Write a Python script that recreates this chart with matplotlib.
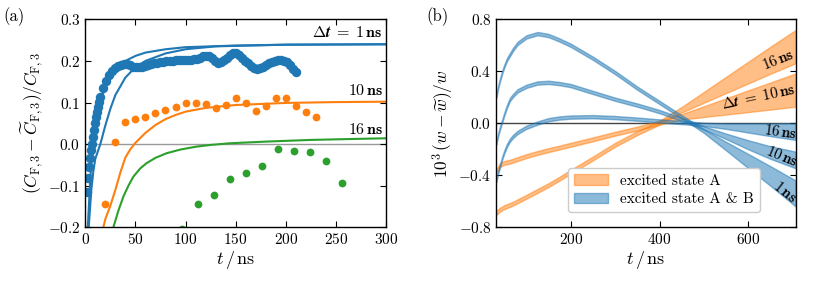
import matplotlib
matplotlib.use("Agg")
import matplotlib.pyplot as plt
import numpy as np

plt.rcParams['font.family'] = 'serif'
plt.rcParams['font.serif'] = ['cmr10', 'DejaVu Serif']
plt.rcParams['mathtext.fontset'] = 'cm'
plt.rcParams['axes.formatter.use_mathtext'] = True
plt.rcParams['font.size'] = 10.5

C0, C1, C2 = '#1f77b4', '#ff7f0e', '#2ca02c'

# ---- panel (a): simulation points ----
t_1ns = [2, 3, 4, 5, 6, 7, 8, 9, 10, 11, 12, 13, 14, 15,
         18, 21, 24, 27, 30, 33, 36, 39, 42, 45, 48, 51, 54, 57, 60, 63,
         66, 69, 72, 75, 78, 81, 84, 87, 90, 93, 96, 99, 102, 105, 108, 111,
         114, 117, 120, 123, 126, 129, 132, 135, 138, 141, 144, 147, 150, 153,
         156, 159, 162, 165, 168, 171, 174, 177, 180, 183, 186, 189, 192, 195,
         198, 201, 204, 207, 210]
y_1ns = [-0.115, -0.082, -0.055, -0.033, -0.015, 0.0, 0.018, 0.035, 0.05, 0.064,
         0.077, 0.09, 0.102, 0.113,
         0.135, 0.152, 0.165, 0.175, 0.182, 0.187, 0.19, 0.193, 0.193, 0.19,
         0.186, 0.185, 0.185, 0.186, 0.188, 0.19, 0.192, 0.194, 0.196, 0.197,
         0.198, 0.199, 0.199, 0.2, 0.201, 0.201, 0.202, 0.202, 0.203, 0.203,
         0.204, 0.205, 0.208, 0.211, 0.213, 0.212, 0.207, 0.2, 0.196, 0.197,
         0.202, 0.208, 0.214, 0.218, 0.218, 0.214, 0.207, 0.2, 0.194, 0.188,
         0.183, 0.181, 0.182, 0.186, 0.191, 0.195, 0.198, 0.2, 0.201, 0.201,
         0.2, 0.197, 0.19, 0.181, 0.173]

t_10ns = [20, 30, 40, 50, 60, 70, 80, 90, 100, 110, 120, 130, 140, 150, 160,
          170, 180, 190, 200, 210, 220, 230]
y_10ns = [-0.144, 0.004, 0.053, 0.061, 0.064, 0.074, 0.082, 0.09, 0.1, 0.1,
          0.096, 0.087, 0.094, 0.112, 0.1, 0.08, 0.092, 0.112, 0.11, 0.091,
          0.076, 0.064]

t_16ns = [96, 112, 128, 144, 160, 176, 192, 208, 224, 240, 256]
y_16ns = [-0.205, -0.144, -0.123, -0.084, -0.069, -0.053, -0.011, -0.017,
          -0.019, -0.04, -0.094]

# ---- panel (a): model curves ----
tf_1a = [2.5, 5, 7.5, 10, 15, 20, 30, 40, 50, 60, 80, 100, 150, 200, 300]
yf_1a = [-0.2, -0.08, -0.01, 0.04, 0.1, 0.14, 0.18, 0.2, 0.212, 0.22, 0.228,
         0.233, 0.237, 0.239, 0.24]
tf_1b = [3.4, 6, 8, 10, 15, 20, 25, 30, 40, 50, 60, 80, 100, 130, 200, 300]
yf_1b = [-0.2, -0.11, -0.065, -0.035, 0.0, 0.045, 0.085, 0.118, 0.16, 0.185,
         0.2, 0.218, 0.228, 0.235, 0.239, 0.24]
tf_10 = [18, 20, 25, 30, 35, 40, 45, 50, 60, 70, 80, 90, 100, 120, 150, 200,
         250, 300]
yf_10 = [-0.2, -0.18, -0.148, -0.11, -0.068, -0.032, -0.012, 0.003, 0.027,
         0.046, 0.06, 0.07, 0.078, 0.087, 0.094, 0.099, 0.101, 0.102]
tf_16 = [28, 33, 38, 43, 48, 55, 61, 70, 81, 95, 111, 125, 144, 180, 224, 260,
         300]
yf_16 = [-0.2, -0.16, -0.126, -0.1, -0.078, -0.058, -0.046, -0.033, -0.022,
         -0.013, -0.006, -0.002, 0.002, 0.006, 0.01, 0.012, 0.014]

# ---- panel (b): bands (centre and width) ----
tb = [32, 36, 40, 45, 50, 56, 63, 70, 80, 100, 125, 150, 175, 200, 250, 300,
      350, 400, 450, 473, 500, 550, 600, 650, 707]
b1_c = [0.21, 0.275, 0.33, 0.39, 0.44, 0.49, 0.53, 0.57, 0.615, 0.665, 0.69,
        0.675, 0.64, 0.6, 0.5, 0.39, 0.27, 0.16, 0.05, 0.0, -0.06, -0.175,
        -0.29, -0.405, -0.54]
b1_w = [0.025] * 20 + [0.027, 0.066, 0.109, 0.151, 0.2]
b10_c = [-0.15, -0.09, -0.04, 0.015, 0.07, 0.13, 0.185, 0.215, 0.25, 0.285,
         0.31, 0.315, 0.305, 0.29, 0.237, 0.185, 0.14, 0.09, 0.03, 0.0,
         -0.035, -0.1, -0.165, -0.225, -0.282]
b10_w = [0.025] * 20 + [0.025, 0.042, 0.07, 0.097, 0.128]
b16_c = [-0.44, -0.38, -0.33, -0.27, -0.22, -0.17, -0.128, -0.1, -0.07, -0.03,
         0.002, 0.028, 0.041, 0.048, 0.051, 0.044, 0.032, 0.018, 0.006, 0.0,
         -0.008, -0.022, -0.036, -0.05, -0.064]
b16_w = [0.025] * 20 + [0.025, 0.042, 0.07, 0.097, 0.128]
o16_c = [-0.69, -0.677, -0.665, -0.655, -0.645, -0.637, -0.628, -0.617, -0.6,
         -0.565, -0.52, -0.475, -0.425, -0.372, -0.27, -0.165, -0.075, 0.005,
         0.105, 0.148, 0.2, 0.295, 0.39, 0.485, 0.59]
o16_w = [0.03] * 18 + [0.042, 0.061, 0.083, 0.125, 0.167, 0.208, 0.256]
o10_c = [-0.372, -0.345, -0.325, -0.312, -0.305, -0.3, -0.295, -0.287, -0.275,
         -0.252, -0.228, -0.206, -0.186, -0.165, -0.123, -0.08, -0.04, 0.005,
         0.05, 0.068, 0.09, 0.13, 0.17, 0.21, 0.256]
o10_w = [0.03] * 18 + [0.042, 0.061, 0.083, 0.125, 0.167, 0.208, 0.256]

fig = plt.figure(figsize=(8.14, 2.84), dpi=100)
ax1 = fig.add_axes([0.1048, 0.1996, 0.3694, 0.7324])
ax2 = fig.add_axes([0.6097, 0.1996, 0.3678, 0.7324])

for ax in (ax1, ax2):
    ax.tick_params(direction='in', top=True, right=True, length=4, width=0.8,
                   labelsize=11)
    for s in ax.spines.values():
        s.set_linewidth(1.0)

# panel (a)
ax1.axhline(0, color='#999999', lw=1.0, zorder=1)
ax1.plot(tf_1a, yf_1a, color=C0, lw=1.5)
ax1.plot(tf_1b, yf_1b, color=C0, lw=1.5)
ax1.plot(tf_10, yf_10, color=C1, lw=1.5)
ax1.plot(tf_16, yf_16, color=C2, lw=1.5)
ax1.plot(t_1ns, y_1ns, 'o', color=C0, ms=6.8, mew=0)
ax1.plot(t_10ns, y_10ns, 'o', color=C1, ms=5.6, mew=0)
ax1.plot(t_16ns, y_16ns, 'o', color=C2, ms=5.6, mew=0)
ax1.set_xlim(0, 300)
ax1.set_ylim(-0.2, 0.3)
ax1.set_xticks([0, 50, 100, 150, 200, 250, 300])
ax1.set_yticks([-0.2, -0.1, 0.0, 0.1, 0.2, 0.3])
ax1.set_xlabel(r'$t\,/\,\mathrm{ns}$', fontsize=13, labelpad=1)
ax1.set_ylabel(r'$(C_{\mathrm{F},3}-\widetilde{C}_{\mathrm{F},3})/C_{\mathrm{F},3}$',
               fontsize=12.5, labelpad=2)
ax1.text(297, 0.268, r'$\mathbf{\Delta}\boldsymbol{t}\;\mathbf{=}\;\mathbf{1\,ns}$',
         ha='right', va='center', fontsize=11.5)
ax1.text(297, 0.128, r'$\mathbf{10\,ns}$', ha='right', va='center', fontsize=11.5)
ax1.text(297, 0.036, r'$\mathbf{16\,ns}$', ha='right', va='center', fontsize=11.5)

# panel (b)
ax2.axhline(0, color='#444444', lw=1.0, zorder=1)
bands = [(o16_c, o16_w, C1), (o10_c, o10_w, C1),
         (b1_c, b1_w, C0), (b10_c, b10_w, C0), (b16_c, b16_w, C0)]
handles = {}
for c, w, col in bands:
    c = np.array(c)
    w = np.array(w)
    h = ax2.fill_between(tb, c - w / 2, c + w / 2, color=col, alpha=0.5,
                         lw=1.0, zorder=2)
    handles[col] = h
ax2.set_xlim(32, 707)
ax2.set_ylim(-0.8, 0.8)
ax2.set_xticks([200, 400, 600])
ax2.set_yticks([-0.8, -0.4, 0.0, 0.4, 0.8])
ax2.set_xlabel(r'$t\,/\,\mathrm{ns}$', fontsize=13, labelpad=1)
ax2.set_ylabel(r'$10^3\,(w-\widetilde{w})/w$', fontsize=12.5, labelpad=2)
ax2.legend([handles[C1], handles[C0]], ['excited state A', 'excited state A & B'],
           loc='lower center', bbox_to_anchor=(0.56, 0.035), fontsize=11,
           handlelength=2.2, framealpha=1, edgecolor='#cccccc',
           borderpad=0.4, labelspacing=0.3)
ax2.text(668, 0.487, r'$\mathbf{16\,ns}$', rotation=22, ha='center', va='center',
         fontsize=11)
ax2.text(623, 0.205, r'$\mathbf{\Delta}\boldsymbol{t}\;\mathbf{=}\;\mathbf{10\,ns}$',
         rotation=12, ha='center', va='center', fontsize=11)
ax2.text(672, -0.065, r'$\mathbf{16\,ns}$', rotation=-8, ha='center',
         va='center', fontsize=11)
ax2.text(676, -0.257, r'$\mathbf{10\,ns}$', rotation=-22, ha='center',
         va='center', fontsize=11)
ax2.text(683, -0.526, r'$\mathbf{1\,ns}$', rotation=-38, ha='center',
         va='center', fontsize=11)

fig.text(14 / 814, 1 - 17 / 284, '(a)', ha='center', va='center', fontsize=12)
fig.text(438 / 814, 1 - 17 / 284, '(b)', ha='center', va='center', fontsize=12)

fig.savefig('out.png', dpi=100)
